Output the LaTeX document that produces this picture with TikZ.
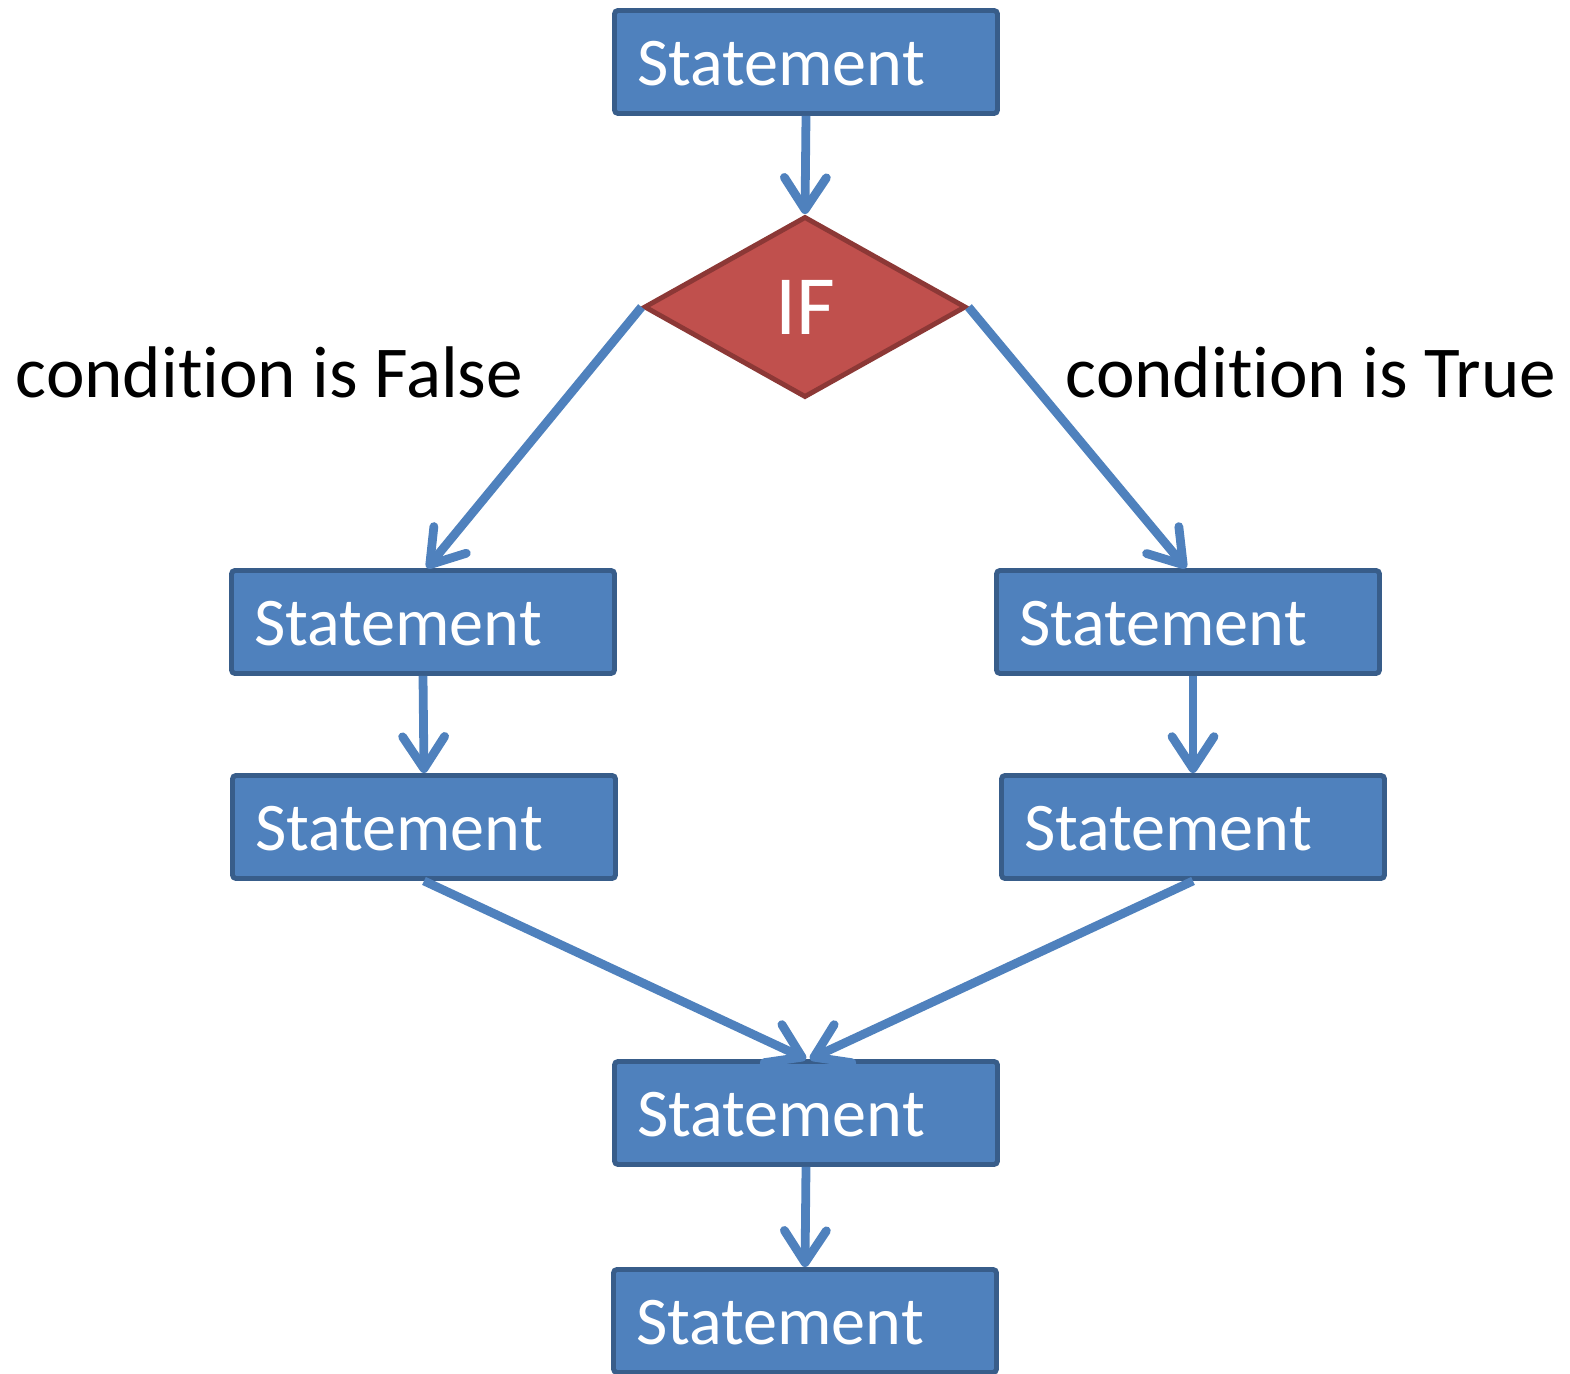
\documentclass[tikz,border=0pt]{standalone}
\usepackage{fontspec}
\setmainfont{Carlito}[Ligatures=NoCommon]
\usepackage{tikz}
\usepackage{xcolor}
\usetikzlibrary{shapes.geometric,arrows.meta}

\definecolor{boxblue}{HTML}{4F81BD}
\definecolor{boxedge}{HTML}{385D8A}
\definecolor{ifred}{HTML}{C0504D}
\definecolor{ifedge}{HTML}{8C3836}

\begin{document}
\begin{tikzpicture}[x=1cm,y=1cm,
stmt/.style = {rectangle, draw=boxedge, fill=boxblue, line width=1.4pt,
  rounded corners=1pt, minimum width=3.83cm, minimum height=1.03cm,
  text width=3.38cm, text height=0.48cm, text depth=0cm,
  inner xsep=0.2cm, align=left, text=white,
  font=\fontsize{19.4}{22}\selectfont},
ifnode/.style = {diamond, draw=ifedge, fill=ifred, line width=1.4pt,
  minimum width=3.22cm, minimum height=1.81cm, inner sep=0pt,
  text=white, font=\fontsize{24}{28}\selectfont},
lbl/.style = {anchor=base west, inner sep=0pt, font=\fontsize{20.8}{24}\selectfont},
flow/.style = {draw=boxblue, line width=2.5pt,
  -{Straight Barb[length=0.32cm, width=0.42cm, round]}}]
\useasboundingbox (0,0) rectangle (15.70,13.74);

\node[stmt] (stmttop) at (8.06,13.12) {Statement};
\node[ifnode] (cond) at (8.05,10.67) {IF};
\node[lbl] (falselbl) at (0.15,9.76) {condition is False};
\node[lbl] (truelbl) at (10.65,9.76) {condition is True};

\node[stmt] (falseA) at (4.23,7.52) {Statement};
\node[stmt] (falseB) at (4.24,5.47) {Statement};
\node[stmt] (trueA) at (11.88,7.52) {Statement};
\node[stmt] (trueB) at (11.93,5.47) {Statement};

\node[stmt] (merge) at (8.06,2.61) {Statement};
\node[stmt] (last) at (8.05,0.53) {Statement};

\draw[flow] (stmttop.south) -- (cond.north);
\draw[flow] (cond.west) -- ([xshift=0.04cm]falseA.north);
\draw[flow] (cond.east) -- ([xshift=-0.02cm]trueA.north);
\draw[flow] (falseA.south) -- (falseB.north);
\draw[flow] (trueA.south -| trueB.north) -- (trueB.north);
\draw[flow] (falseB.south) -- (merge.north);
\draw[flow] (trueB.south) -- ([xshift=0.04cm]merge.north);
\draw[flow] (merge.south) -- (last.north);
\end{tikzpicture}
\end{document}
